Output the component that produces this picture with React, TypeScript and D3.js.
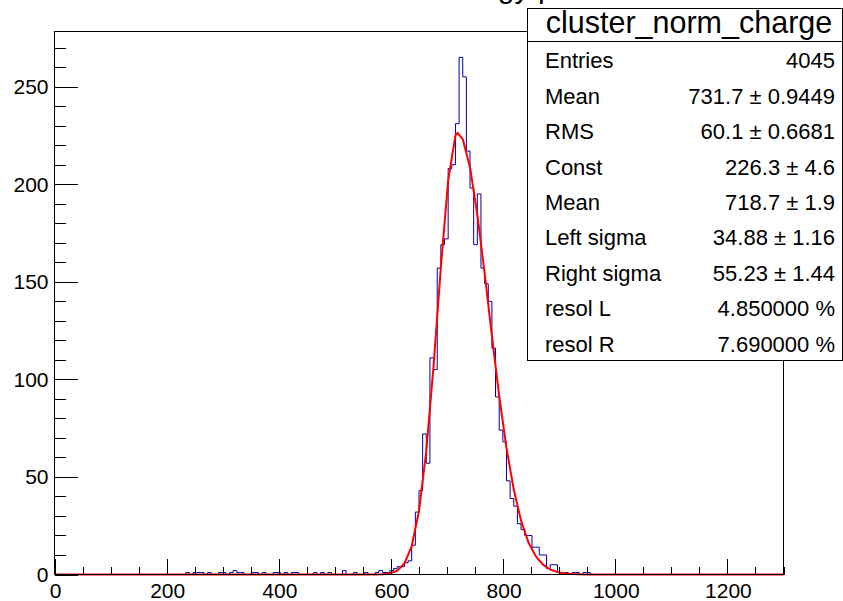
import React from "react";
import * as d3 from "d3";

const W = 843;
const H = 601;

const histTitle = "Energy plot";
const statsTitle = "cluster_norm_charge";
const statsLabels = ["Entries", "Mean", "RMS", "Const", "Mean", "Left sigma", "Right sigma", "resol L", "resol R"];
const statsValues = ["4045", "731.7 \u00b1 0.9449", "60.1 \u00b1 0.6681", "226.3 \u00b1 4.6", "718.7 \u00b1 1.9", "34.88 \u00b1 1.16", "55.23 \u00b1 1.44", "4.850000 %", "7.690000 %"];

const xMin = 0;
const xMax = 1300;
const nBins = 200;
const yMax = 278.25;

// counts of bins starting at bin index firstFilledBin (bin width 6.5)
const firstFilledBin = 36;
const binCounts = [
  1, 0, 1, 1, 1, 0, 1, 0, 0, 1, // 36-45
  1, 0, 1, 2, 1, 1, 0, 0, 1, 1, // 46-55
  0, 1, 0, 0, 1, 1, 0, 1, 0, 1, // 56-65
  1, 0, 0, 0, 0, 1, 0, 1, 0, 1, // 66-75
  0, 0, 0, 2, 0, 0, 1, 0, 0, 1, // 76-85
  0, 0, 1, 2, 1, 1, 2, 3, 4, 4, // 86-95
  6, 7, 15, 32, 43, 72, 57, 111, 105, 157, // 96-105
  169, 172, 208, 210, 231, 265, 255, 217, 198, 169, // 106-115
  195, 157, 149, 140, 116, 91, 74, 68, 48, 39, // 116-125
  35, 26, 23, 20, 20, 14, 14, 10, 10, 3, // 126-135
  5, 5, 1, 0, 1, 0, 1, 1, 0, 1, // 136-145
  1, // 146
];

const fitConst = 226.3;
const fitMean = 718.7;
const fitSigmaL = 34.88;
const fitSigmaR = 55.23;

const xTicks = [0, 200, 400, 600, 800, 1000, 1200];
const xMinorTicks = d3.range(0, 1300 + 1, 50);
const yTicks = [0, 50, 100, 150, 200, 250];
const yMinorTicks = d3.range(0, 271, 10);

const FONT = "'Liberation Sans', Arial, Helvetica, sans-serif";

export default function App() {
  const x = d3.scaleLinear().domain([xMin, xMax]).range([54.5, 783.5]);
  const y = d3.scaleLinear().domain([0, yMax]).range([574.5, 31.5]);
  const binW = (xMax - xMin) / nBins;

  const counts: number[] = new Array(nBins).fill(0);
  binCounts.forEach((c, i) => {
    counts[firstFilledBin + i] = c;
  });
  const stepPts: [number, number][] = counts.map((c, i) => [xMin + i * binW, c]);
  stepPts.push([xMax, counts[nBins - 1]]);
  const histPath = d3
    .line<[number, number]>()
    .x((d) => x(d[0]))
    .y((d) => y(d[1]))
    .curve(d3.curveStepAfter)(stepPts) as string;

  const fitF = (v: number) => {
    const s = v < fitMean ? fitSigmaL : fitSigmaR;
    return fitConst * Math.exp(-0.5 * ((v - fitMean) / s) ** 2);
  };
  const fitXs = d3.range(xMin, xMax + 0.001, 13).concat([fitMean]).sort((a, b) => a - b);
  const fitPath = d3
    .line<number>()
    .x((d) => x(d))
    .y((d) => y(fitF(d)))(fitXs) as string;

  const bottom = y(0);
  const left = x(0);
  const rowBase = 68.3;
  const rowStep = 35.43;

  return (
    <svg
      width={W}
      height={H}
      viewBox={`0 0 ${W} ${H}`}
      style={{ position: "absolute", left: 0, top: 0, background: "#fff" }}
      fontFamily={FONT}
    >
      <rect x={0} y={0} width={W} height={H} fill="#fff" />
      <text x={434.5} y={-2} fontSize={30} fill="#000">
        {histTitle}
      </text>

      {/* histogram */}
      <path d={histPath} fill="none" stroke="#000099" strokeWidth={1} />
      {/* fit */}
      <path d={fitPath} fill="none" stroke="#ff0000" strokeWidth={2} strokeLinejoin="round" />

      {/* frame */}
      <rect
        x={x(xMin)}
        y={y(yMax)}
        width={x(xMax) - x(xMin)}
        height={y(0) - y(yMax)}
        fill="none"
        stroke="#000"
        strokeWidth={1}
        shapeRendering="crispEdges"
      />

      {/* x ticks */}
      <g shapeRendering="crispEdges" stroke="#000" strokeWidth={1}>
        {xMinorTicks.map((t) => {
          const major = t % 200 === 0;
          const xx = Math.round(x(t)) + 0.5;
          return <line key={"xt" + t} x1={xx} x2={xx} y1={bottom} y2={bottom - (major ? 15.5 : 7.7)} />;
        })}
        {yMinorTicks.map((t) => {
          const major = t % 50 === 0;
          const yy = Math.round(y(t)) + 0.5;
          return <line key={"yt" + t} x1={left} x2={left + (major ? 23 : 11.5)} y1={yy} y2={yy} />;
        })}
      </g>

      <g fontSize={21} fill="#000">
        {xTicks.map((t) => (
          <text key={"xl" + t} x={x(t) + 1} y={598} textAnchor="middle">
            {t}
          </text>
        ))}
        {yTicks.map((t) => (
          <text key={"yl" + t} x={48.5} y={y(t) + 7.4} textAnchor="end">
            {t}
          </text>
        ))}
      </g>

      {/* stats box */}
      <rect x={527.5} y={8.5} width={315} height={352} fill="#fff" stroke="#000" strokeWidth={1} shapeRendering="crispEdges" />
      <line x1={527.5} x2={842.5} y1={41.5} y2={41.5} stroke="#000" strokeWidth={1} shapeRendering="crispEdges" />
      <text x={689} y={33} fontSize={30.5} textAnchor="middle" fill="#000">
        {statsTitle}
      </text>
      <g fontSize={22} fill="#000">
        {statsLabels.map((l, i) => (
          <text key={"sl" + i} x={545} y={rowBase + i * rowStep}>
            {l}
          </text>
        ))}
        {statsValues.map((v, i) => (
          <text key={"sv" + i} x={835} y={rowBase + i * rowStep} textAnchor="end">
            {v}
          </text>
        ))}
      </g>
    </svg>
  );
}
